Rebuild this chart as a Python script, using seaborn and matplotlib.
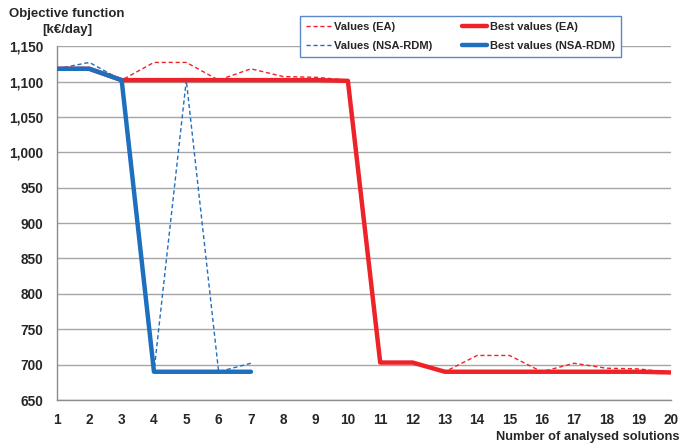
import numpy as np
import pandas as pd
import matplotlib
matplotlib.use("Agg")
import matplotlib.pyplot as plt
import seaborn as sns

# data
solutions_ea = list(range(1, 21))
values_ea = [1118, 1118, 1102, 1127, 1127, 1102, 1118, 1107, 1106, 1102,
             703, 703, 690, 713, 713, 690, 702, 695, 694, 689]
best_ea = [1118, 1118, 1102, 1102, 1102, 1102, 1102, 1102, 1102, 1101,
           703, 703, 690, 690, 690, 690, 690, 690, 690, 689]
solutions_nsa = list(range(1, 8))
values_nsa = [1118, 1127, 1102, 690, 1102, 690, 702]
best_nsa = [1118, 1118, 1102, 690, 690, 690, 690]

red = "#ee2229"
blue = "#1f6fbf"

sns.set_theme(style="white")
plt.rcParams["font.family"] = ["Liberation Sans", "DejaVu Sans"]
plt.rcParams["font.weight"] = "bold"

fig = plt.figure(figsize=(6.82, 4.48), dpi=100)
ax = fig.add_axes([0.0836, 0.107, 0.9004, 0.790])

df_ea = pd.DataFrame({"x": solutions_ea, "values": values_ea, "best": best_ea})
df_nsa = pd.DataFrame({"x": solutions_nsa, "values": values_nsa, "best": best_nsa})

sns.lineplot(data=df_ea, x="x", y="values", ax=ax, color=red, lw=1.0,
             linestyle=(0, (3, 2)), label="Values (EA)", zorder=3)
sns.lineplot(data=df_nsa, x="x", y="values", ax=ax, color=blue, lw=1.0,
             linestyle=(0, (3, 2)), label="Values (NSA-RDM)", zorder=3)
sns.lineplot(data=df_ea, x="x", y="best", ax=ax, color=red, lw=3.2,
             label="Best values (EA)", zorder=4)
sns.lineplot(data=df_nsa, x="x", y="best", ax=ax, color=blue, lw=3.2,
             label="Best values (NSA-RDM)", zorder=5)

ax.set_xlim(1, 20)
ax.set_ylim(650, 1150)
ax.set_xticks(range(1, 21))
ax.set_yticks(range(650, 1151, 50))
ax.yaxis.set_major_formatter(matplotlib.ticker.FuncFormatter(lambda v, p: f"{int(v):,}"))
ax.grid(axis="y", color="#a6a6a6", lw=1.0)
ax.set_axisbelow(True)
for s in ["top", "right"]:
    ax.spines[s].set_visible(False)
for s in ["left", "bottom"]:
    ax.spines[s].set_color("#8c8c8c")
    ax.spines[s].set_linewidth(1.0)
ax.tick_params(axis="both", which="major", length=4, width=1, color="#8c8c8c",
               labelsize=9.8, pad=6)
ax.tick_params(axis="x", direction="inout", length=6)
for lbl in ax.get_xticklabels() + ax.get_yticklabels():
    lbl.set_fontweight("bold")
ax.set_xlabel("")
ax.set_ylabel("")

fig.text(67 / 682, 0.982, "Objective function\n[k€/day]", fontsize=9.5,
         fontweight="bold", ha="center", va="top", linespacing=1.4)
fig.text(0.996, 0.012, "Number of analysed solutions", fontsize=9.3,
         fontweight="bold", ha="right", va="bottom")

leg = ax.legend(ncol=2, loc="upper left", bbox_to_anchor=(300 / 682, 1 - 16 / 448),
                bbox_transform=fig.transFigure, borderaxespad=0, fontsize=8,
                frameon=True, fancybox=False, borderpad=0.55, handlelength=2.3,
                columnspacing=2.6, labelspacing=0.8, handletextpad=0.25)
leg.get_frame().set_edgecolor("#5a87c6")
leg.get_frame().set_linewidth(1.0)
leg.get_frame().set_alpha(1)
for t in leg.get_texts():
    t.set_fontweight("bold")

fig.savefig("out.png", dpi=100)
